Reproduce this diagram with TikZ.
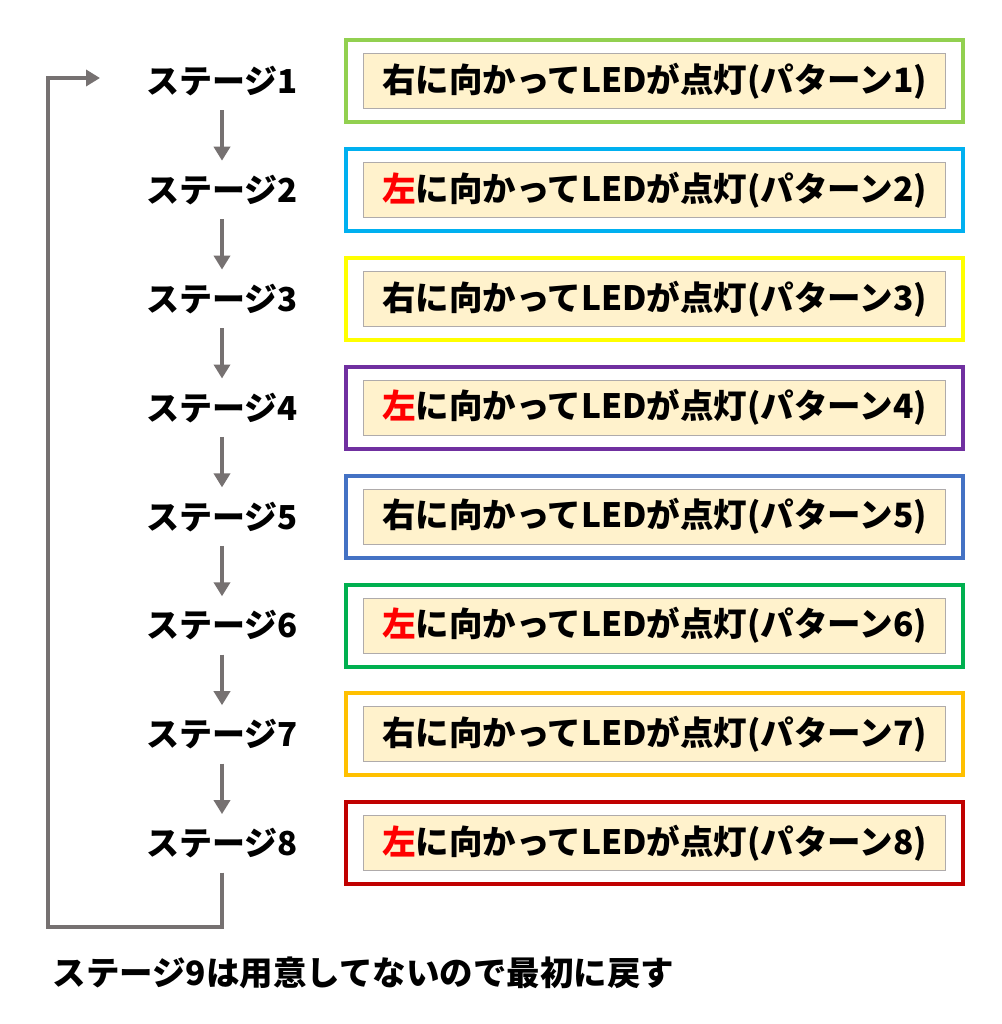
\documentclass[tikz,border=0pt]{standalone}
\usepackage{fontspec}
\newfontfamily\jp{Noto Sans CJK JP}
\usetikzlibrary{arrows.meta}
\definecolor{arrgray}{HTML}{767171}
\definecolor{innerfill}{HTML}{FFF2CC}
\definecolor{innerline}{HTML}{AFABAB}
\definecolor{cA}{HTML}{92D050}
\definecolor{cB}{HTML}{00B0F0}
\definecolor{cC}{HTML}{FFFF00}
\definecolor{cD}{HTML}{7030A0}
\definecolor{cE}{HTML}{4472C4}
\definecolor{cF}{HTML}{00B050}
\definecolor{cG}{HTML}{FFC000}
\definecolor{cH}{HTML}{C00000}
\definecolor{lred}{HTML}{FF0000}
\tikzset{
  txt/.style={font=\jp\bfseries\fontsize{33.5}{38}\selectfont, text=black},
  stagebox/.style={font=\jp\bfseries\fontsize{33}{38}\selectfont, minimum height=58pt, inner sep=0pt},
  outerbox/.style={draw=#1, line width=4pt, minimum width=617pt, minimum height=82pt, inner sep=0pt},
  innerbox/.style={txt, draw=innerline, line width=1pt, fill=innerfill, minimum width=582pt, minimum height=55pt, inner sep=0pt},
  arr/.style={draw=arrgray, line width=4pt, -{Triangle[length=14pt,width=16pt]}},
  loopline/.style={draw=arrgray, line width=4pt, -{Triangle[length=14pt,width=16pt]}},
}
\begin{document}
\begin{tikzpicture}[x=1pt,y=-1pt]
\useasboundingbox[fill=white] (0,0) rectangle (1001,1024);
\foreach \i/\c/\w in {1/cA/右,2/cB/\textcolor{lred}{左},3/cC/右,4/cD/\textcolor{lred}{左},5/cE/右,6/cF/\textcolor{lred}{左},7/cG/右,8/cH/\textcolor{lred}{左}}{
  \pgfmathsetmacro{\yc}{81+(\i-1)*108.9}
  \node[stagebox] (s\i) at (222,\yc) {ステージ\i};
  \node[outerbox=\c] (o\i) at (654.5,\yc) {};
  \node[innerbox] (b\i) at (654.5,\yc) {{\w}に向かってLEDが点灯(パターン\i)};
}
\foreach \i [evaluate=\i as \j using int(\i+1)] in {1,...,7}{
  \draw[arr] (s\i.south) -- (s\j.north);
}
\coordinate (loopend) at (100,78);
\coordinate (loopbl) at (48,927);
\draw[loopline] (s8.south) |- (loopbl) |- (loopend);
\node[txt, anchor=west] (note) at (49,973) {ステージ9は用意してないので最初に戻す};
\end{tikzpicture}
\end{document}
